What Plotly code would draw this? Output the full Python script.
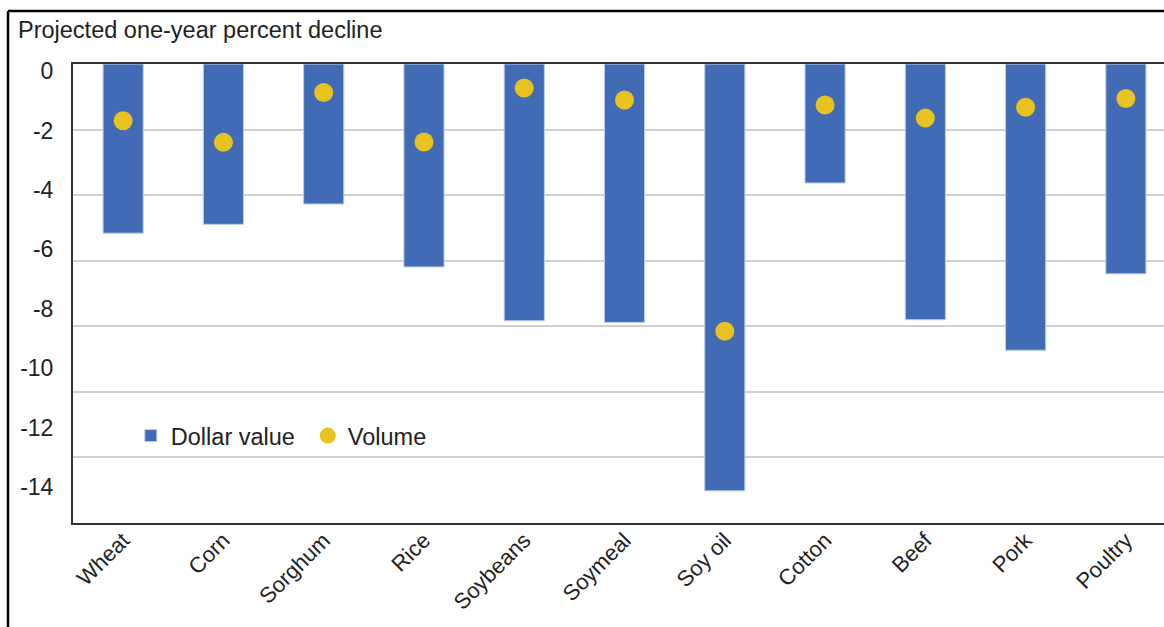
import plotly.graph_objects as go

categories = ["Wheat", "Corn", "Sorghum", "Rice", "Soybeans", "Soymeal",
              "Soy oil", "Cotton", "Beef", "Pork", "Poultry"]
dollar_value = [-5.16, -4.89, -4.27, -6.19, -7.83, -7.88, -13.02, -3.63, -7.80, -8.73, -6.40]
volume = [-1.73, -2.39, -0.87, -2.38, -0.73, -1.10, -8.15, -1.25, -1.65, -1.32, -1.05]
y_tick_values = [0, -2, -4, -6, -8, -10, -12, -14]
y_tick_labels = ["0", "-2", "-4", "-6", "-8", "-10", "-12", "-14"]
title_text = "Projected one-year percent decline"

FONT = "Liberation Sans, Arial, sans-serif"
TXT = "#222222"

fig = go.Figure()
fig.add_trace(go.Bar(
    x=categories, y=dollar_value, name="Dollar value",
    width=0.4,
    marker=dict(color="#416BB5", line=dict(color="#B9CBEA", width=1)),
))
fig.add_trace(go.Scatter(
    x=categories, y=volume, name="Volume", mode="markers",
    marker=dict(color="#E8C21E", size=19, line=dict(width=0)),
))
# invisible helper trace so the label axis is drawn
fig.add_trace(go.Scatter(x=[None], y=[None], yaxis="y2", showlegend=False,
                         hoverinfo="skip"))

fig.update_layout(
    width=1164, height=627,
    margin=dict(l=73, r=0, t=64, b=104),
    paper_bgcolor="white", plot_bgcolor="white",
    font=dict(family=FONT, size=24, color=TXT),
    bargap=0.6,
    xaxis=dict(
        type="category", range=[-0.5, 10.38],
        tickangle=-45, tickfont=dict(size=22, color=TXT),
        ticklabelstandoff=-6,
        showline=True, linecolor="#333333", linewidth=1.5, mirror=True,
        ticks="", showgrid=False, zeroline=False,
    ),
    yaxis=dict(
        range=[-14, 0], tickvals=y_tick_values, showticklabels=False,
        showgrid=True, gridcolor="#D0D0D0", gridwidth=1.5,
        showline=True, linecolor="#333333", linewidth=1.5,
        zeroline=False, ticks="",
    ),
    yaxis2=dict(
        overlaying="y", side="left", range=[-15.21, 0.236],
        tickvals=y_tick_values, ticktext=y_tick_labels,
        tickfont=dict(size=23, color=TXT),
        showgrid=False, zeroline=False, showline=False,
        ticks="outside", ticklen=14, tickcolor="rgba(0,0,0,0)",
    ),
    showlegend=True,
    legend=dict(
        orientation="h", x=0.053, y=0.19, xanchor="left", yanchor="middle",
        font=dict(size=23.5, color=TXT), bgcolor="rgba(0,0,0,0)",
        itemsizing="trace", entrywidth=132,
    ),
    annotations=[dict(
        text=title_text, xref="paper", yref="paper",
        x=(16 - 73) / 1091, y=1 + (64 - 30) / 459,
        xanchor="left", yanchor="middle", showarrow=False,
        font=dict(size=23.5, color=TXT),
    )],
    shapes=[
        dict(type="line", xref="paper", yref="paper",
             x0=(8 - 73) / 1091, x1=1.01, y0=1 + (64 - 11) / 459, y1=1 + (64 - 11) / 459,
             line=dict(color="black", width=2.5)),
        dict(type="line", xref="paper", yref="paper",
             x0=(8 - 73) / 1091, x1=(8 - 73) / 1091, y0=1 + (64 - 11) / 459, y1=-0.3,
             line=dict(color="black", width=2.5)),
    ],
)

fig.write_html("out.html", config={"displayModeBar": False},
               post_script="document.body.style.margin='0px';document.body.style.overflow='hidden';")
